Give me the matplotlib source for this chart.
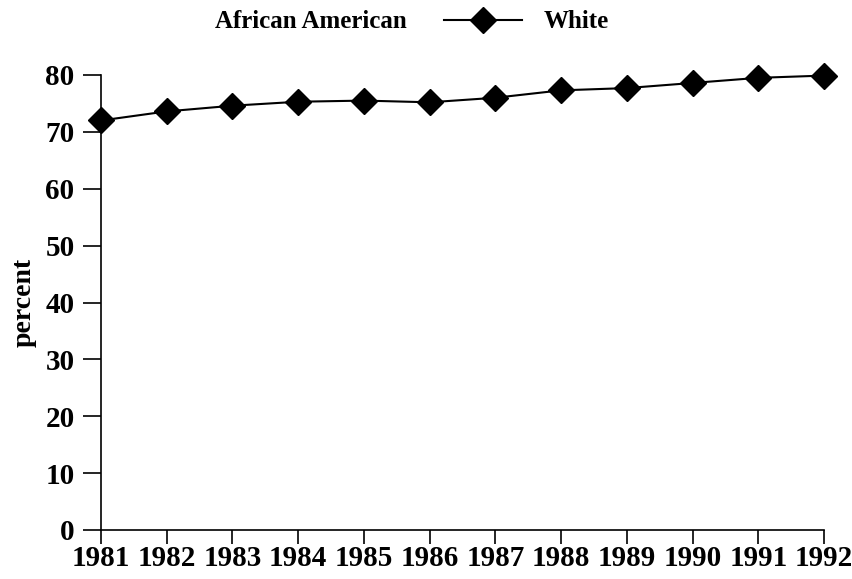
import matplotlib
matplotlib.use("Agg")
import matplotlib.pyplot as plt

years = [1981, 1982, 1983, 1984, 1985, 1986, 1987, 1988, 1989, 1990, 1991, 1992]
white = [72.0, 73.6, 74.6, 75.3, 75.5, 75.2, 76.0, 77.3, 77.7, 78.6, 79.5, 79.9]
african_american = []  # series not visible in the chart
series_labels = ["African American", "White"]
yticks = [0, 10, 20, 30, 40, 50, 60, 70, 80]

plt.rcParams['font.family'] = ['Liberation Serif', 'DejaVu Serif']
plt.rcParams['font.weight'] = 'bold'

fig = plt.figure(figsize=(8.53, 5.79), dpi=100)
ax = fig.add_axes([101/853, 1-530/579, (824-101)/853, (530-75)/579])

aa_line, = ax.plot(years[:len(african_american)], african_american, color='none',
                   label=series_labels[0])
w_line, = ax.plot(years, white, color='black', linewidth=1.5, marker='D',
                  markersize=13, markerfacecolor='black', markeredgecolor='black',
                  label=series_labels[1], clip_on=False, zorder=5)

ax.set_xlim(1981, 1992)
ax.set_ylim(0, 80)
ax.set_xticks(years)
ax.set_xticklabels([str(y) for y in years], fontsize=21, fontweight='bold')
ax.set_yticks(yticks)
ax.set_yticklabels([str(v) for v in yticks], fontsize=21, fontweight='bold')
ax.tick_params(axis='both', direction='out', width=1.2, color='black')
ax.tick_params(axis='x', pad=1, length=10)
ax.tick_params(axis='y', pad=6, length=13)
for s in ['top', 'right']:
    ax.spines[s].set_visible(False)
for s in ['left', 'bottom']:
    ax.spines[s].set_linewidth(1.2)
ax.set_ylabel('percent', fontsize=20, fontweight='bold', labelpad=6)

leg = fig.legend(handles=[aa_line, w_line], labels=series_labels, ncol=2,
                 loc='center', bbox_to_anchor=(362/853, 1-22/579),
                 frameon=False, prop={'size': 18, 'weight': 'bold'},
                 handlelength=3.1, columnspacing=1.5, handletextpad=0.9,
                 markerscale=1.0)

fig.savefig('out.png', dpi=100)
